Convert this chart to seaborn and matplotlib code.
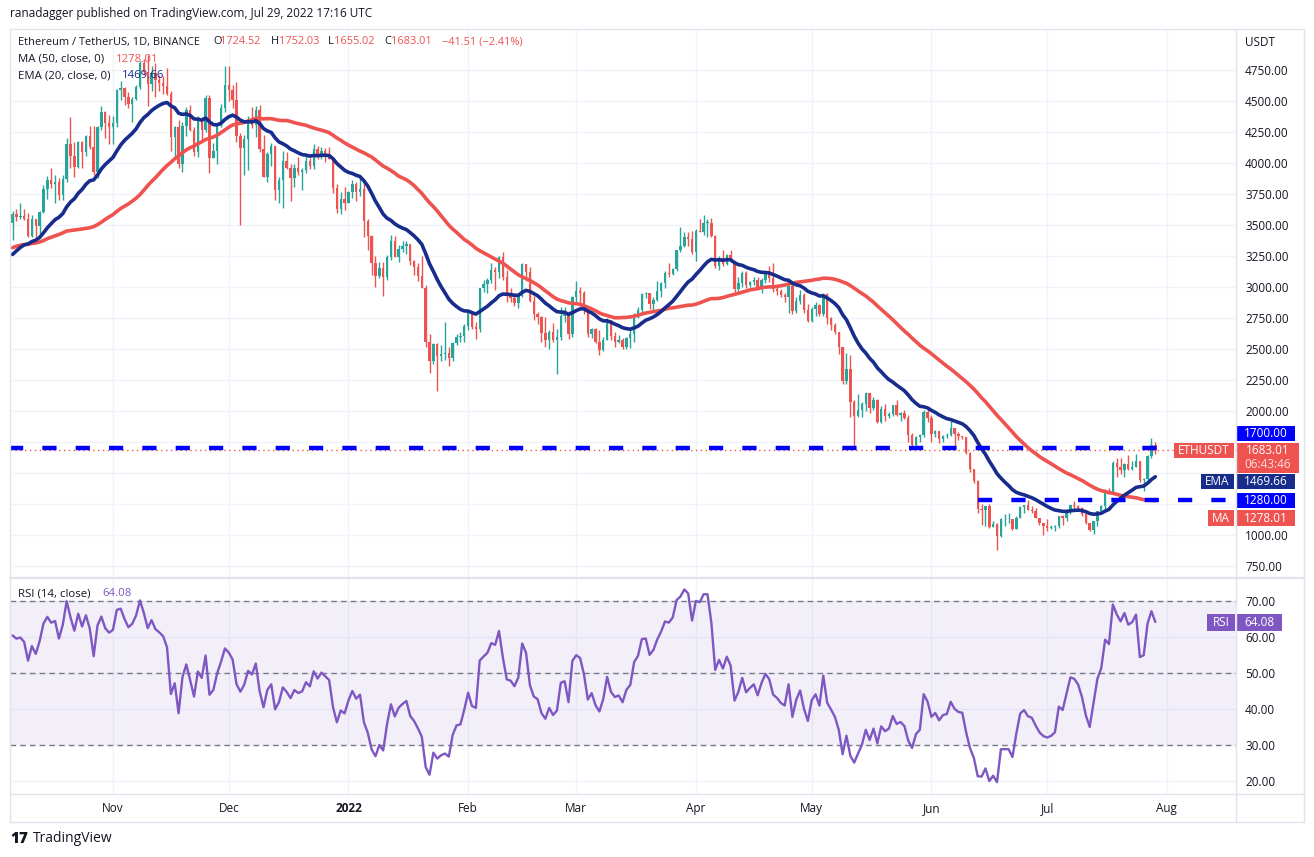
import numpy as np
import pandas as pd
import matplotlib
matplotlib.use("Agg")
import matplotlib.pyplot as plt
import matplotlib.dates as mdates
import seaborn as sns
from matplotlib.patches import Rectangle
from matplotlib.lines import Line2D

# closes before the visible window (Aug 1 - Oct 5 2021), only used to seed MA / EMA / RSI
history_closes = [
    2557, 2608, 2507, 2725, 2827, 3158, 3012, 3163, 3141, 3164, 3043, 3322, 3266, 3309, 3151, 3011,
    3283, 3015, 3182, 3287, 3225, 3241, 3324, 3172, 3227, 3100, 3270, 3240, 3225, 3230, 3432,
    3830, 3787, 3940, 3887, 3950, 3925, 3430, 3495, 3427, 3210, 3265, 3410, 3285, 3430, 3615,
    3570, 3400, 3435, 3330, 2975, 2765, 3080, 3155, 2930, 2925, 3060, 2930, 2810, 2850, 3000,
    3310, 3390, 3418, 3385, 3517,
]

# daily candles, Oct 6 2021 - Jul 29 2022 (open = previous close)
start_date = "2021-10-06"
closes = [
    # Oct
    3587, 3563, 3575, 3545, 3415, 3545, 3490, 3605, 3788, 3865, 3830, 3847, 3745, 3875, 4157, 4057,
    3970, 4170, 4085, 4220, 4130, 3925, 4287, 4415, 4323, 4288,
    # Nov
    4322, 4588, 4605, 4535, 4479, 4518, 4615, 4810, 4732, 4635, 4725, 4668, 4648, 4625, 4560, 4210,
    4290, 3990, 4300, 4430, 4270, 4085, 4340, 4270, 4525, 4040, 4095, 4295, 4445, 4630,
    # Dec
    4585, 4510, 4220, 4120, 4195, 4350, 4310, 4430, 4110, 3890, 4075, 4135, 3785, 3860, 4020, 3960,
    3880, 3960, 3925, 3940, 4020, 3980, 4110, 4045, 4095, 4065, 4035, 3795, 3630, 3710, 3680,
    # Jan
    3765, 3830, 3765, 3790, 3535, 3415, 3195, 3090, 3155, 3080, 3240, 3375, 3245, 3305, 3330, 3350,
    3210, 3160, 3085, 2995, 2560, 2405, 2540, 2440, 2460, 2470, 2425, 2545, 2600, 2605, 2688,
    # Feb
    2790, 2680, 2665, 2990, 3025, 3055, 3135, 3125, 3240, 3080, 2925, 2915, 2875, 2930, 3185, 3125,
    2885, 2785, 2760, 2630, 2575, 2640, 2575, 2600, 2770, 2780, 2620, 2920,
    # Mar
    2970, 2950, 2835, 2620, 2665, 2555, 2495, 2575, 2730, 2605, 2560, 2570, 2515, 2590, 2620, 2770,
    2815, 2945, 2950, 2860, 2895, 2970, 3030, 3110, 3105, 3145, 3295, 3330, 3400, 3385, 3280,
    # Apr
    3450, 3445, 3520, 3520, 3410, 3170, 3235, 3185, 3260, 3210, 2980, 3030, 3115, 3015, 3040, 3060,
    2990, 3055, 3105, 3075, 2985, 2965, 2935, 2920, 3010, 2810, 2890, 2935, 2815, 2725,
    # May
    2825, 2855, 2780, 2940, 2750, 2695, 2635, 2520, 2240, 2340, 2070, 1960, 2010, 2060, 2145, 2025,
    2090, 1915, 2015, 1960, 1975, 2045, 1970, 1980, 1945, 1805, 1725, 1790, 1810, 1995, 1940,
    # Jun
    1815, 1835, 1775, 1800, 1805, 1860, 1815, 1795, 1790, 1660, 1530, 1435, 1210, 1205, 1235, 1065,
    1085, 995, 1125, 1125, 1125, 1050, 1140, 1225, 1240, 1200, 1190, 1140, 1095, 1070,
    # Jul
    1060, 1065, 1075, 1150, 1135, 1185, 1240, 1235, 1215, 1170, 1095, 1040, 1110, 1190, 1230, 1355,
    1340, 1580, 1545, 1520, 1575, 1535, 1550, 1595, 1440, 1450, 1635, 1724.52, 1683.01,
]
highs = [
    3615, 3630, 3675, 3630, 3600, 3580, 3550, 3615, 3820, 3895, 3960, 3900, 3880, 3900, 4200, 4375,
    4170, 4180, 4180, 4230, 4300, 4300, 4300, 4460, 4420, 4390,
    4380, 4600, 4660, 4610, 4570, 4535, 4630, 4820, 4840, 4870, 4780, 4810, 4710, 4700, 4770, 4580,
    4300, 4350, 4330, 4450, 4470, 4290, 4380, 4370, 4550, 4550, 4160, 4310, 4480, 4780,
    4780, 4630, 4650, 4240, 4230, 4380, 4450, 4460, 4470, 4230, 4090, 4160, 4140, 3890, 4100, 4090,
    3990, 3990, 4050, 3960, 4070, 4040, 4150, 4140, 4130, 4120, 4130, 4040, 3830, 3770, 3810,
    3775, 3860, 3850, 3880, 3850, 3545, 3420, 3250, 3200, 3200, 3260, 3420, 3410, 3340, 3370, 3370,
    3350, 3220, 3190, 3250, 3020, 2620, 2550, 2545, 2530, 2720, 2520, 2555, 2620, 2640, 2700,
    2815, 2810, 2720, 2995, 3060, 3070, 3190, 3160, 3250, 3280, 3140, 2990, 2950, 2950, 3190, 3185,
    3160, 2930, 2800, 2770, 2760, 2650, 2710, 2660, 2840, 2840, 2810, 2930,
    3050, 3000, 2970, 2840, 2670, 2670, 2650, 2600, 2750, 2730, 2640, 2610, 2590, 2600, 2650, 2790,
    2840, 2950, 2960, 2950, 2920, 3050, 3040, 3130, 3190, 3150, 3290, 3480, 3440, 3440, 3450,
    3470, 3550, 3580, 3550, 3555, 3420, 3250, 3300, 3270, 3300, 3210, 3080, 3130, 3130, 3050, 3080,
    3080, 3070, 3130, 3170, 3190, 3010, 2980, 2955, 3020, 3030, 2920, 2975, 2950, 2860,
    2835, 2880, 2860, 2955, 2950, 2760, 2710, 2640, 2520, 2470, 2450, 2090, 2140, 2070, 2150, 2145,
    2110, 2100, 2040, 2060, 1990, 2050, 2090, 1995, 2010, 1965, 1820, 1800, 1815, 2005, 2015,
    1970, 1850, 1840, 1805, 1820, 1920, 1865, 1830, 1800, 1790, 1670, 1535, 1440, 1250, 1235, 1250,
    1110, 1100, 1140, 1170, 1180, 1125, 1150, 1230, 1245, 1280, 1235, 1220, 1140, 1100,
    1125, 1080, 1080, 1155, 1165, 1190, 1245, 1275, 1240, 1225, 1170, 1095, 1115, 1195, 1245, 1370,
    1380, 1600, 1620, 1620, 1580, 1645, 1600, 1650, 1600, 1460, 1645, 1785, 1752.03,
]
lows = [
    3380, 3530, 3550, 3540, 3400, 3400, 3400, 3420, 3600, 3710, 3800, 3680, 3700, 3700, 3850, 3960,
    3890, 3960, 3960, 4060, 4110, 3900, 3880, 4270, 4200, 4150,
    4150, 4290, 4510, 4470, 4440, 4330, 4510, 4600, 4710, 4460, 4580, 4530, 4580, 4560, 4550, 4100,
    4050, 3960, 3930, 4220, 4260, 4060, 4050, 4180, 4250, 3920, 4040, 3990, 4290, 4410,
    4500, 4440, 4170, 3500, 3900, 3940, 4280, 4210, 4090, 3890, 3850, 3980, 3700, 3680, 3640, 3950,
    3690, 3810, 3900, 3780, 3920, 3950, 3950, 4030, 4030, 4010, 4030, 3760, 3600, 3590, 3620,
    3680, 3720, 3695, 3730, 3400, 3300, 3100, 3000, 3070, 2930, 3060, 3220, 3240, 3200, 3280, 3270,
    3180, 3100, 3050, 2990, 2520, 2310, 2380, 2160, 2400, 2410, 2360, 2400, 2530, 2560, 2560,
    2650, 2660, 2580, 2640, 2960, 2950, 3030, 2975, 3070, 3060, 2880, 2880, 2850, 2830, 2920, 3050,
    2880, 2730, 2700, 2560, 2520, 2500, 2560, 2300, 2570, 2720, 2580, 2600,
    2860, 2850, 2780, 2600, 2590, 2550, 2455, 2480, 2570, 2570, 2520, 2550, 2500, 2500, 2510, 2560,
    2750, 2780, 2910, 2820, 2810, 2890, 2920, 2990, 3080, 3100, 3130, 3280, 3320, 3330, 3270,
    3210, 3440, 3420, 3400, 3405, 3150, 3140, 3170, 3180, 3200, 2950, 2960, 3000, 2990, 3000, 3020,
    2980, 2950, 3030, 3040, 2960, 2935, 2920, 2880, 2790, 2780, 2790, 2860, 2790, 2720,
    2715, 2770, 2765, 2770, 2700, 2650, 2620, 2460, 2220, 2220, 1950, 1700, 1950, 1950, 2000, 1980,
    2010, 1900, 1900, 1920, 1940, 1960, 1960, 1920, 1935, 1750, 1700, 1715, 1750, 1790, 1910,
    1750, 1790, 1740, 1750, 1780, 1800, 1720, 1765, 1775, 1650, 1510, 1420, 1175, 1080, 1070, 1060,
    1065, 880, 980, 1070, 1100, 1040, 1050, 1140, 1180, 1200, 1180, 1135, 1080, 1000,
    1030, 1050, 1035, 1060, 1080, 1110, 1170, 1200, 1200, 1150, 1085, 1035, 1005, 1070, 1185, 1190,
    1330, 1335, 1465, 1490, 1470, 1525, 1520, 1545, 1430, 1355, 1430, 1620, 1655.02,
]

# key horizontal levels and the day each dashed line starts
levels = [1700, 1280]
level_starts = ["2021-10-05", "2022-06-13"]

# time axis
month_ticks = ["2021-11-01", "2021-12-01", "2022-01-01", "2022-02-01", "2022-03-01",
               "2022-04-01", "2022-05-01", "2022-06-01", "2022-07-01", "2022-08-01"]
month_labels = ["Nov", "Dec", "2022", "Feb", "Mar", "Apr", "May", "Jun", "Jul", "Aug"]
price_ticks = list(range(750, 4751, 250))
rsi_ticks = [20, 30, 40, 50, 60, 70]

GREEN, RED = "#26a69a", "#ef5350"
NAVY, BLUE, PURPLE = "#182c8c", "#0000ff", "#7e57c2"
TXT, GRID, BORDER = "#131722", "#f0f3fa", "#e0e3eb"

sns.set_theme(style="white")
plt.rcParams["font.family"] = ["Open Sans", "DejaVu Sans"]

W, H = 1314, 857


def fx(x):
    return x / W


def fy(y):
    return 1 - y / H


# indicators from the closes
n_hist = len(history_closes)
all_close = pd.Series(history_closes + closes, dtype=float)
ma50 = all_close.rolling(50).mean().iloc[n_hist:].to_numpy()
ema20 = all_close.ewm(span=20, adjust=False).mean().iloc[n_hist:].to_numpy()
delta = all_close.diff()
gain = delta.clip(lower=0).ewm(alpha=1 / 14, adjust=False).mean()
loss = (-delta.clip(upper=0)).ewm(alpha=1 / 14, adjust=False).mean()
rsi = (100 - 100 / (1 + gain / loss)).iloc[n_hist:].to_numpy()

dates = pd.date_range(start_date, periods=len(closes), freq="D")
x = mdates.date2num(dates)
c = np.array(closes, dtype=float)
o = np.r_[history_closes[-1], c[:-1]]
hi = np.maximum(np.array(highs, dtype=float), np.maximum(o, c))
lo = np.minimum(np.array(lows, dtype=float), np.minimum(o, c))
cols = np.where(c >= o, GREEN, RED)

x_left = x[0] - 0.67
x_right = mdates.date2num(pd.Timestamp("2022-08-18")) + 0.9

fig = plt.figure(figsize=(W / 100, H / 100), dpi=100)
fig.patch.set_facecolor("white")
ax = fig.add_axes([fx(10), fy(577), fx(1236) - fx(10), fy(29) - fy(577)])
ax_rsi = fig.add_axes([fx(10), fy(794), fx(1236) - fx(10), fy(579) - fy(794)])

# ---- price pane ----
ax.vlines(x, lo, hi, colors=cols, lw=1, zorder=3)
ax.bar(x, np.maximum(np.abs(c - o), 5), bottom=np.minimum(o, c), width=0.62,
       color=cols, linewidth=0, zorder=3)
sns.lineplot(x=x, y=ma50, ax=ax, color=RED, lw=2.6, zorder=4)
sns.lineplot(x=x, y=ema20, ax=ax, color=NAVY, lw=2.6, zorder=5)

for lvl, s in zip(levels, level_starts):
    xs = mdates.date2num(pd.Timestamp(s))
    ax.hlines(lvl, xs, x_right, colors=BLUE, lw=3.2, linestyles=(0, (3.2, 4.3)), zorder=6)
ax.axhline(c[-1], color=RED, lw=1, ls=(0, (1, 2.5)), zorder=2)

ax.set_xlim(x_left, x_right)
ax.set_ylim(661, 5081)
ax.set_yticks(price_ticks)
ax.set_yticklabels(["" if v in (1250, 1500, 1750) else f"{v:.2f}" for v in price_ticks])
ax.yaxis.tick_right()
ax.set_xticks(mdates.date2num(pd.to_datetime(month_ticks)))
ax.tick_params(axis="x", labelbottom=False, length=0)
ax.tick_params(axis="y", length=0, pad=6.5, labelsize=8.5, labelcolor=TXT)
ax.grid(True, color=GRID, lw=1)
ax.set_axisbelow(True)
for sp in ax.spines.values():
    sp.set_visible(False)

# ---- RSI pane ----
ax_rsi.axhspan(30, 70, color=PURPLE, alpha=0.09, lw=0)
for lvl in (70, 50, 30):
    ax_rsi.axhline(lvl, color="#787b86", lw=1, ls=(0, (4, 3)), zorder=2)
sns.lineplot(x=x, y=rsi, ax=ax_rsi, color=PURPLE, lw=1.7, zorder=4)
ax_rsi.set_xlim(x_left, x_right)
ax_rsi.set_ylim(16.4, 76.1)
ax_rsi.set_yticks(rsi_ticks)
ax_rsi.set_yticklabels([f"{v:.2f}" for v in rsi_ticks])
ax_rsi.yaxis.tick_right()
ax_rsi.set_xticks(mdates.date2num(pd.to_datetime(month_ticks)))
ax_rsi.set_xticklabels(month_labels)
ax_rsi.get_xticklabels()[2].set_fontweight("bold")
ax_rsi.tick_params(axis="x", length=0, pad=6, labelsize=8.5, labelcolor=TXT)
ax_rsi.tick_params(axis="y", length=0, pad=6.5, labelsize=8.5, labelcolor=TXT)
ax_rsi.set_xlabel("")
ax_rsi.grid(True, color=GRID, lw=1)
ax_rsi.set_axisbelow(True)
for sp in ax_rsi.spines.values():
    sp.set_visible(False)

# ---- frame lines ----
def fline(x0, y0, x1, y1, color=BORDER, lw=1):
    fig.add_artist(Line2D([fx(x0), fx(x1)], [fy(y0), fy(y1)], transform=fig.transFigure,
                          color=color, lw=lw))

fline(10, 29, 1304, 29)
fline(10, 822, 1304, 822)
fline(10, 29, 10, 822)
fline(1304, 29, 1304, 822)
fline(1236, 29, 1236, 822)
fline(10, 794, 1304, 794)
fline(10, 578, 1304, 578, lw=1.6)


def box(x0, y0, x1, y1, color, text=None, fs=8.5, weight="normal"):
    fig.add_artist(Rectangle((fx(x0), fy(y1)), fx(x1) - fx(x0), fy(y0) - fy(y1),
                             transform=fig.transFigure, color=color, lw=0))
    if text:
        fig.text(fx((x0 + x1) / 2), fy((y0 + y1) / 2), text, ha="center", va="center",
                 color="white", fontsize=fs, fontweight=weight)


def label(xp, yp, s, color=TXT, fs=8.5, weight="normal"):
    fig.text(fx(xp), fy(yp), s, ha="left", va="center", color=color, fontsize=fs,
             fontweight=weight)


# right scale boxes
box(1236, 426, 1295, 441, BLUE, "1700.00")
box(1174, 443, 1234, 458, RED, "ETHUSDT")
box(1236, 443, 1299, 473, RED)
fig.text(fx(1267.5), fy(451), f"{c[-1]:.2f}", ha="center", va="center", color="white", fontsize=8.5)
fig.text(fx(1267.5), fy(465), "06:43:46", ha="center", va="center", color="#fde0df", fontsize=8.5)
box(1201, 474, 1234, 489, NAVY, "EMA")
box(1236, 474, 1295, 489, NAVY, "1469.66")
box(1236, 493, 1295, 508, BLUE, "1280.00")
box(1208, 510, 1234, 526, RED, "MA")
box(1236, 510, 1295, 526, RED, "1278.01")
box(1207, 614, 1235, 631, PURPLE, "RSI")
box(1236, 614, 1282, 631, PURPLE, "64.08")
label(1245, 42, "USDT")

# header texts
label(10, 14, "ranadagger published on TradingView.com, Jul 29, 2022 17:16 UTC", fs=8.5)
label(18, 42, "Ethereum / TetherUS, 1D, BINANCE", fs=7.9)
for xp, s, col in [(213, "O", TXT), (220, "1724.52", RED), (271, "H", TXT), (279, "1752.03", RED),
                   (328, "L", TXT), (334, "1655.02", RED), (384, "C", TXT), (391, "1683.01", RED),
                   (442, "−41.51 (−2.41%)", RED)]:
    label(xp, 42, s, col, fs=7.9)
label(18, 59, "MA (50, close, 0)", fs=8.2)
label(116, 59, "1278.01", RED, fs=8.2)
label(18, 76, "EMA (20, close, 0)", fs=8.2)
label(122, 76, "1469.66", NAVY, fs=8.2)
label(18, 594, "RSI (14, close)", fs=8.2)
label(102, 594, "64.08", PURPLE, fs=8.2)

# footer logo
label(10, 839, "17", fs=11, weight="heavy")
label(33, 839, "TradingView", fs=10)

fig.savefig("out.png", dpi=100, facecolor="white")
plt.close("all")
